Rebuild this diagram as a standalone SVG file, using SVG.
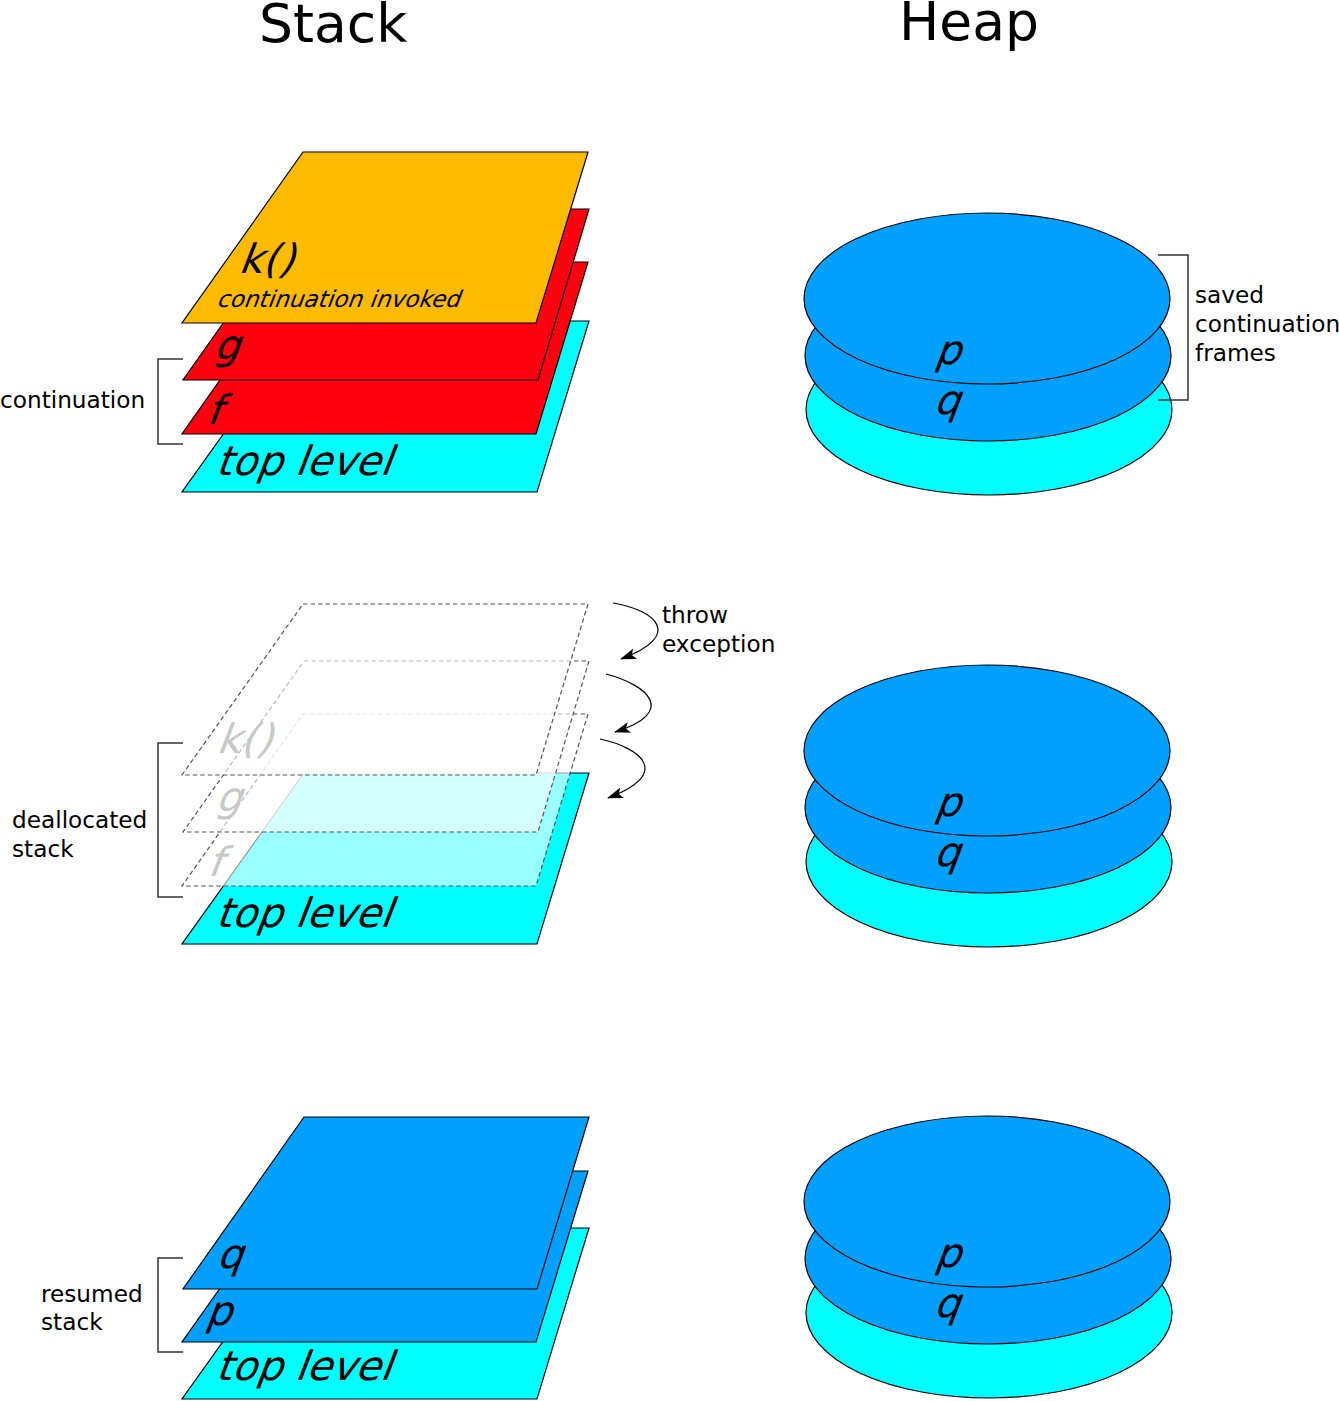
<svg xmlns="http://www.w3.org/2000/svg" width="1339" height="1401" viewBox="0 0 1339 1401">
<style>
.plate{stroke:#000;stroke-width:1.2;stroke-linejoin:miter}
.ghost{fill:#fff;fill-opacity:0.6;stroke:#555;stroke-width:1.2;stroke-dasharray:4.5,3}
.disc{stroke:#000;stroke-width:1.2}
.lab{font-family:"DejaVu Sans",sans-serif;font-size:40.5px;fill:#000}
.sm{font-size:23.2px}
.gl{fill:#c8c8c8}
.txt{font-family:"DejaVu Sans",sans-serif;font-size:23.2px;fill:#000}
.title{font-family:"DejaVu Sans",sans-serif;font-size:53.5px;fill:#000}
.brk{fill:none;stroke:#333;stroke-width:1.5}
.arr{fill:none;stroke:#000;stroke-width:1.2}
</style>
<defs>
<marker id="ah" viewBox="0 0 16 11" refX="15" refY="5.5" markerWidth="16" markerHeight="11" markerUnits="userSpaceOnUse" orient="auto">
<path d="M0,0 L16,5.5 L0,11 L3.5,5.5 Z" fill="#000"/>
</marker>
</defs>
<text class="title" x="259" y="42">Stack</text>
<text class="title" x="899" y="40">Heap</text>

<g id="stack-top">
<g id="s1-toplevel"><polygon class="plate" fill="#00ffff" points="304,321 589,321 537,492 182,492"/><text class="lab" transform="translate(215,475) skewX(-21)">top level</text></g>
<g id="s1-f"><polygon class="plate" fill="#ff0010" points="303,262 588,262 536,434 182,434"/><text class="lab" transform="translate(206,424) skewX(-21)">f</text></g>
<g id="s1-g"><polygon class="plate" fill="#ff0010" points="304,209 589,209 538,380 183,380"/><text class="lab" transform="translate(213,359) skewX(-21)">g</text></g>
<g id="s1-k"><polygon class="plate" fill="#ffbb00" points="303,152 588,152 536,323 182,323"/><text class="lab" transform="translate(238,273) skewX(-21)">k()</text><text class="lab sm" transform="translate(216,307) skewX(-21)">continuation invoked</text></g>
</g>

<g id="stack-mid">
<g id="s2-toplevel"><polygon class="plate" fill="#00ffff" points="304,773 589,773 537,944 182,944"/><text class="lab" transform="translate(215,927) skewX(-21)">top level</text></g>
<g id="s2-f"><polygon class="ghost" points="303,714 588,714 536,886 182,886"/><text class="lab gl" transform="translate(207,876) skewX(-21)">f</text></g>
<g id="s2-g"><polygon class="ghost" points="304,661 589,661 538,832 183,832"/><text class="lab gl" transform="translate(215,811) skewX(-21)">g</text></g>
<g id="s2-k"><polygon class="ghost" points="303,604 588,604 536,775 182,775"/><text class="lab gl" transform="translate(216,753) skewX(-21)">k()</text></g>
</g>

<g id="stack-bot">
<g id="s3-toplevel"><polygon class="plate" fill="#00ffff" points="304,1228 589,1228 537,1399 182,1399"/><text class="lab" transform="translate(215,1380) skewX(-21)">top level</text></g>
<g id="s3-p"><polygon class="plate" fill="#00a0ff" points="303,1171 588,1171 536,1342 182,1342"/><text class="lab" transform="translate(205,1325) skewX(-21)">p</text></g>
<g id="s3-q"><polygon class="plate" fill="#00a0ff" points="304,1117 589,1117 537,1289 183,1289"/><text class="lab" transform="translate(216,1268) skewX(-21)">q</text></g>
</g>

<g id="heap-top">
<ellipse class="disc" fill="#00ffff" cx="989" cy="409.5" rx="183" ry="85.5"/>
<ellipse class="disc" fill="#00a0ff" cx="988" cy="355.5" rx="183" ry="85.5"/>
<ellipse class="disc" fill="#00a0ff" cx="987" cy="298.5" rx="183" ry="85.5"/>
<text class="lab" transform="translate(934,364) skewX(-21)">p</text>
<text class="lab" transform="translate(933,414) skewX(-21)">q</text>
</g>
<g id="heap-mid">
<ellipse class="disc" fill="#00ffff" cx="989" cy="861.5" rx="183" ry="85.5"/>
<ellipse class="disc" fill="#00a0ff" cx="988" cy="807.5" rx="183" ry="85.5"/>
<ellipse class="disc" fill="#00a0ff" cx="987" cy="750.5" rx="183" ry="85.5"/>
<text class="lab" transform="translate(934,816) skewX(-21)">p</text>
<text class="lab" transform="translate(933,866) skewX(-21)">q</text>
</g>
<g id="heap-bot">
<ellipse class="disc" fill="#00ffff" cx="989" cy="1312.5" rx="183" ry="85.5"/>
<ellipse class="disc" fill="#00a0ff" cx="988" cy="1258.5" rx="183" ry="85.5"/>
<ellipse class="disc" fill="#00a0ff" cx="987" cy="1201.5" rx="183" ry="85.5"/>
<text class="lab" transform="translate(934,1267) skewX(-21)">p</text>
<text class="lab" transform="translate(933,1317) skewX(-21)">q</text>
</g>

<g id="annotations">
<path class="brk" d="M183,359 H158 V444 H183"/>
<text class="txt" x="0" y="408">continuation</text>
<path class="brk" d="M1158,255 H1188 V400 H1158"/>
<text class="txt" x="1195" y="303">saved</text>
<text class="txt" x="1195" y="332">continuation</text>
<text class="txt" x="1195" y="361">frames</text>
<path class="brk" d="M183,743 H158 V897 H183"/>
<text class="txt" x="12" y="828">deallocated</text>
<text class="txt" x="12" y="857">stack</text>
<path class="brk" d="M183,1258 H158 V1352 H183"/>
<text class="txt" x="41" y="1302">resumed</text>
<text class="txt" x="41" y="1330">stack</text>
<text class="txt" x="662" y="623">throw</text>
<text class="txt" x="662" y="652">exception</text>
</g>

<g id="connectors">
<path class="arr" marker-end="url(#ah)" d="M613,603 C655,610 685,635 621,659"/>
<path class="arr" marker-end="url(#ah)" d="M606,674 C648,685 678,712 615,732"/>
<path class="arr" marker-end="url(#ah)" d="M600,739 C642,748 672,774 608,798"/>
</g>
</svg>
